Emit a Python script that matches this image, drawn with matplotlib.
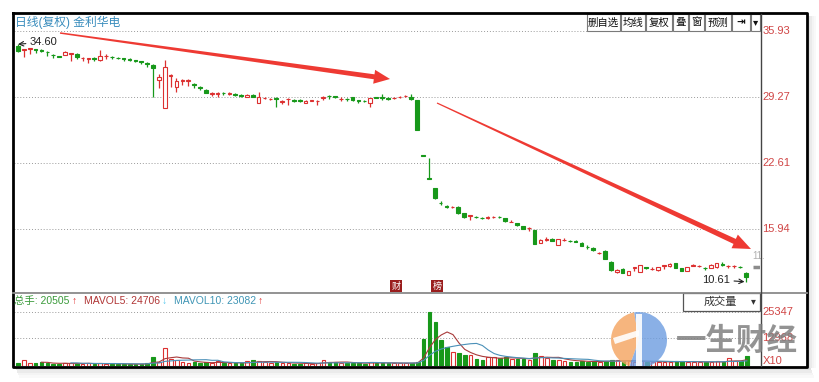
import numpy as np
import pandas as pd
import matplotlib
matplotlib.use("Agg")
import matplotlib.pyplot as plt
from matplotlib.patches import Rectangle, Polygon, Wedge

plt.rcParams['font.family'] = ['Liberation Sans', 'Noto Sans CJK SC', 'DejaVu Sans']

# ---- data ----
opens = [34.45, 34.00, 34.10, 34.10, 34.05, 33.85, 33.55, 33.40, 33.55, 33.65,
         33.60, 33.20, 33.15, 33.20, 33.05, 33.40, 33.35, 33.25, 33.20, 33.10,
         33.00, 32.90, 32.75, 32.55, 31.00, 28.20, 31.40, 30.25, 30.90, 30.90,
         30.60, 30.25, 30.00, 29.55, 29.60, 29.70, 29.60, 29.60, 29.50, 29.30,
         29.50, 28.70, 29.15, 29.05, 29.20, 28.80, 29.05, 28.95, 28.95, 28.70,
         28.90, 28.85, 29.20, 29.40, 29.35, 29.05, 29.10, 29.25, 28.95, 28.90,
         28.70, 29.25, 29.25, 29.15, 29.15, 29.25, 29.35, 29.25, 28.95, 23.35,
         21.05, 20.10, 18.60, 18.30, 18.15, 18.20, 17.55, 17.30, 17.20, 17.10,
         17.10, 17.15, 17.20, 17.05, 16.60, 16.50, 16.20, 16.00, 15.85, 14.55,
         14.85, 14.95, 14.35, 14.80, 14.75, 14.70, 14.55, 14.15, 14.00, 13.50,
         13.75, 12.60, 11.60, 11.95, 11.30, 12.00, 11.60, 12.10, 11.90, 11.80,
         12.25, 12.20, 12.50, 12.00, 11.75, 12.25, 12.20, 12.05, 12.05, 12.10,
         12.40, 12.20, 12.20, 12.15, 11.50]
highs = [34.60, 34.15, 34.25, 34.15, 34.10, 33.90, 33.60, 33.45, 33.95, 33.75,
         33.75, 33.30, 33.25, 33.30, 34.00, 33.65, 33.45, 33.30, 33.25, 33.20,
         33.05, 32.95, 32.80, 32.60, 31.60, 33.00, 31.60, 31.20, 31.10, 31.05,
         30.70, 30.35, 30.05, 29.75, 29.75, 29.75, 29.75, 29.65, 29.55, 29.55,
         29.55, 29.80, 29.30, 29.15, 29.25, 29.00, 29.20, 29.05, 29.05, 28.95,
         29.00, 28.95, 29.40, 29.45, 29.40, 29.25, 29.15, 29.30, 29.00, 28.95,
         29.20, 29.30, 29.60, 29.30, 29.30, 29.40, 29.50, 29.60, 28.95, 23.35,
         23.10, 20.10, 18.80, 18.35, 18.25, 18.25, 17.60, 17.40, 17.25, 17.15,
         17.30, 17.30, 17.30, 17.10, 16.80, 16.55, 16.25, 16.10, 15.85, 14.90,
         15.10, 15.00, 14.95, 15.00, 14.85, 14.85, 14.60, 14.30, 14.10, 13.65,
         13.80, 12.70, 11.90, 12.00, 11.75, 12.15, 12.35, 12.15, 12.10, 12.15,
         12.35, 12.50, 12.55, 12.05, 12.15, 12.45, 12.30, 12.15, 12.40, 12.55,
         12.60, 12.30, 12.30, 12.20, 11.60]
lows = [33.85, 33.30, 33.60, 33.70, 33.80, 33.40, 33.25, 33.30, 33.50, 32.95,
        33.15, 32.90, 32.70, 32.90, 32.95, 33.10, 33.15, 33.10, 32.95, 32.95,
        32.80, 32.60, 32.30, 29.25, 30.20, 28.15, 30.30, 29.80, 30.50, 30.35,
        30.20, 30.00, 29.65, 29.40, 29.30, 29.45, 29.45, 29.40, 29.30, 29.25,
        29.25, 28.65, 29.05, 28.95, 28.25, 28.60, 28.50, 28.80, 28.80, 28.65,
        28.85, 28.50, 29.00, 29.10, 29.20, 28.90, 28.90, 28.90, 28.70, 28.80,
        28.30, 29.15, 28.95, 28.95, 29.05, 29.15, 29.30, 29.00, 25.95, 23.35,
        21.02, 19.00, 18.35, 18.10, 18.05, 17.50, 17.10, 16.90, 17.05, 17.00,
        17.00, 17.05, 17.05, 16.65, 16.60, 16.25, 15.90, 15.70, 14.40, 14.50,
        14.75, 14.70, 14.30, 14.70, 14.60, 14.60, 14.20, 13.90, 13.70, 13.40,
        12.90, 11.75, 11.50, 11.45, 11.25, 11.70, 11.55, 11.95, 11.85, 11.75,
        11.95, 12.15, 12.00, 11.65, 11.70, 12.25, 12.15, 11.85, 12.00, 12.05,
        12.20, 12.00, 12.00, 12.00, 10.61]
closes = [33.90, 34.10, 34.20, 34.00, 33.95, 33.80, 33.50, 33.35, 33.85, 33.70,
          33.35, 33.25, 33.20, 33.15, 33.40, 33.45, 33.30, 33.20, 33.15, 33.05,
          32.95, 32.85, 32.65, 32.20, 31.30, 32.30, 31.50, 30.85, 30.95, 31.00,
          30.45, 30.20, 29.70, 29.65, 29.70, 29.65, 29.65, 29.50, 29.40, 29.50,
          29.30, 29.30, 29.20, 29.10, 29.10, 28.85, 29.10, 28.90, 28.90, 28.90,
          28.95, 28.90, 29.30, 29.35, 29.30, 29.10, 29.05, 28.95, 28.90, 28.85,
          29.15, 29.20, 29.20, 29.10, 29.20, 29.30, 29.40, 29.05, 25.95, 23.35,
          21.02, 19.05, 18.55, 18.20, 18.20, 17.55, 17.15, 17.35, 17.15, 17.05,
          17.15, 17.20, 17.15, 16.70, 16.65, 16.30, 15.95, 16.05, 14.45, 14.85,
          14.90, 14.75, 14.90, 14.85, 14.70, 14.65, 14.25, 14.10, 13.80, 13.55,
          12.95, 11.80, 11.85, 11.50, 11.70, 12.10, 12.30, 12.00, 11.95, 12.10,
          12.30, 12.40, 12.05, 11.70, 12.10, 12.30, 12.25, 12.00, 12.35, 12.50,
          12.35, 12.25, 12.25, 12.10, 11.10]
volumes = [1400, 2800, 1400, 1300, 1900, 1200, 1000, 900, 1500, 1300,
           1200, 1000, 1200, 900, 1500, 1100, 1000, 800, 900, 850,
           900, 1000, 1300, 4200, 2100, 8600, 3300, 2900, 2000, 1500,
           1900, 1400, 1700, 1300, 2300, 1400, 1300, 1200, 1300, 2200,
           2600, 2400, 1800, 1500, 1800, 1300, 1400, 1100, 1000, 1300,
           1000, 1200, 2700, 2000, 1800, 1500, 1300, 1600, 1200, 1100,
           1900, 1400, 1600, 1300, 1200, 1400, 1300, 1500, 1900, 12700,
           25347, 20600, 12300, 8900, 6500, 6100, 5200, 5000, 3400, 2900,
           4100, 4000, 3700, 4200, 3300, 3200, 3400, 2800, 6000, 4600,
           3800, 2900, 3000, 2500, 2100, 2000, 2300, 2000, 2200, 1800,
           2500, 2800, 2700, 2400, 2300, 2000, 2500, 1900, 1800, 2100,
           1800, 2000, 2200, 2300, 2100, 1900, 1800, 1700, 2000, 2200,
           1900, 3600, 2200, 2300, 4600]

price_ticks = [35.93, 29.27, 22.61, 15.94]
vol_ticks = [25347, 12968]
title_text = "日线(复权) 金利华电"
stats = [("总手: 20505", "#3a9a3a"), ("↑", "#e03030"),
         ("MAVOL5: 24706", "#b03535"), ("↓", "#55c8ee"),
         ("MAVOL10: 23082", "#3f95b5"), ("↑", "#e03030")]

RED = "#dc3030"
GREEN = "#17981a"
W, H = 819, 382


def fx(x):
    return x / W


def fy(y):
    return 1 - y / H


o = np.array(opens); h = np.array(highs); l = np.array(lows); c = np.array(closes)
n = len(c)
x = np.arange(n)
prev = np.r_[c[0], c[:-1]]
up = (c > o) | ((c == o) & (c >= prev))
cols = [RED if u else GREEN for u in up]
faces = ["white" if u else GREEN for u in up]

fig = plt.figure(figsize=(W / 100, H / 100), dpi=100)
fig.patch.set_facecolor("white")
renderer = fig.canvas.get_renderer()

ax = fig.add_axes([fx(14), fy(292), fx(760 - 14), (292 - 14) / H])
axv = fig.add_axes([fx(14), fy(366), fx(761 - 14), (366 - 294) / H])
for a in (ax, axv):
    a.set_xlim(-0.68, 126.4)
    a.set_xticks([]); a.set_yticks([])
    for s in a.spines.values():
        s.set_visible(False)
    a.patch.set_alpha(0)
ax.set_ylim(9.58, 37.65)
axv.set_ylim(0, 33800)

# grid + right labels
for t in price_ticks:
    ax.axhline(t, color="#9a9a9a", lw=0.7, ls=(0, (1, 2)), zorder=0)
    ax.text(1.003, t, f"{t:.2f}", transform=ax.get_yaxis_transform(),
            color="#d04545", fontsize=8, va="center", ha="left")
for t in vol_ticks:
    axv.axhline(t, color="#9a9a9a", lw=0.7, ls=(0, (1, 2)), zorder=0)
    axv.text(1.002, t, str(t), transform=axv.get_yaxis_transform(),
             color="#d04545", fontsize=8, va="center", ha="left")
axv.text(1.002, 0.07, "X10", transform=axv.transAxes, color="#d04545",
         fontsize=8, va="center", ha="left")

# candles
ax.vlines(x, l, h, colors=cols, lw=0.9, zorder=2)
body = np.maximum(np.abs(c - o), 0.03)
ax.bar(x, body, bottom=np.minimum(o, c), width=0.62, color=faces,
       edgecolor=cols, linewidth=0.8, zorder=3)

# volume
axv.bar(x, volumes, width=0.62, color=faces, edgecolor=cols, linewidth=0.8, zorder=2)
vs = pd.Series(volumes, dtype=float)
axv.plot(x, vs.rolling(5).mean(), color="#a83a3a", lw=0.8, zorder=3)
axv.plot(x, vs.rolling(10).mean(), color="#4a90b8", lw=0.8, zorder=3)

# max / min labels
ax.annotate("34.60", xy=(0, h.max()), xytext=(12, 2), textcoords="offset pixels",
            fontsize=8, ha="left", va="center", color="#222",
            arrowprops=dict(arrowstyle="->", color="#222", lw=0.8, shrinkA=1, shrinkB=0))
ax.annotate(f"{l.min():.2f}", xy=(n - 1, l.min()), xytext=(-16, 2), textcoords="offset pixels",
            fontsize=8, ha="right", va="center", color="#222",
            arrowprops=dict(arrowstyle="->", color="#222", lw=0.8, shrinkA=1, shrinkB=1))
ax.hlines(c[-2], n + 0.2, 126.4, color="#8c8c8c", lw=2.5, zorder=3)
ax.text(n + 0.1, c[-2] + 0.6, "11.", color="#b0b0b0", fontsize=7, ha="left", va="bottom")

# frame, separators, shadow
for k, a_ in enumerate([0.22, 0.14, 0.08, 0.04]):
    fig.patches.append(Rectangle((fx(16 + k), fy(370 + 2.5 * k)), fx(795), (2.5) / H,
                                 transform=fig.transFigure, color="#777", alpha=a_, lw=0))
    fig.patches.append(Rectangle((fx(808 + 2 * k), fy(368)), fx(2), (352) / H,
                                 transform=fig.transFigure, color="#777", alpha=a_, lw=0))
fig.lines.append(plt.Line2D([fx(13), fx(13), fx(807), fx(807), fx(13)],
                            [fy(13), fy(367), fy(367), fy(13), fy(13)],
                            transform=fig.transFigure, color="black", lw=2))
fig.lines.append(plt.Line2D([fx(13), fx(807)], [fy(293), fy(293)],
                            transform=fig.transFigure, color="#8a8a8a", lw=1.3))
fig.lines.append(plt.Line2D([fx(760.5), fx(760.5)], [fy(14), fy(366)],
                            transform=fig.transFigure, color="#444", lw=1))

# header texts
fig.text(fx(15), fy(22), title_text, color="#3a8dbd", fontsize=8.5, va="center", ha="left")
buttons = [("删自选", 587, 620), ("均线", 621, 645), ("复权", 646, 672), ("叠", 673, 688),
           ("窗", 689, 704), ("预测", 705, 731), ("⇥", 732, 750), ("▾", 751, 760)]
for label, x0, x1 in buttons:
    fig.patches.append(Rectangle((fx(x0), fy(31)), fx(x1 - x0), 17 / H, transform=fig.transFigure,
                                 facecolor="white", edgecolor="#7a7a7a", lw=0.8))
    fig.text(fx((x0 + x1) / 2), fy(22.5), label, fontsize=7.5, ha="center", va="center",
             color="#111", weight="bold" if label in ("⇥", "▾") else "normal")

# volume stats row, laid out one after another
xpos = 14
for s, col in stats:
    t = fig.text(fx(xpos), fy(301), s, color=col, fontsize=7.5, va="center", ha="left")
    wpx = t.get_window_extent(renderer).width
    xpos += wpx + (2 if s not in ("↑", "↓") else 7)

# 成交量 box
fig.patches.append(Rectangle((fx(683), fy(311)), fx(77), 18 / H, transform=fig.transFigure,
                             facecolor="white", edgecolor="#555", lw=0.9))
fig.text(fx(720), fy(302), "成交量", fontsize=8, ha="center", va="center", color="#333")
fig.text(fx(753), fy(301), "▾", fontsize=7, ha="center", va="center", color="#333")

# event tags
for ch, xx in (("财", 396), ("榜", 437)):
    fig.text(fx(xx), fy(286), ch, fontsize=6.5, color="white", ha="center", va="center",
             bbox=dict(boxstyle="square,pad=0.12", fc="#9a1d1d", ec="none"))


def red_arrow(x0, y0, x1, y1, w0, w1, hl, hw):
    p0 = np.array([x0, y0], float); p1 = np.array([x1, y1], float)
    d = (p1 - p0) / np.hypot(*(p1 - p0))
    nrm = np.array([-d[1], d[0]])
    b = p1 - d * hl
    pts = [p0 + nrm * w0 / 2, b + nrm * w1 / 2, b + nrm * hw / 2, p1,
           b - nrm * hw / 2, b - nrm * w1 / 2, p0 - nrm * w0 / 2]
    pts = [(fx(p[0]), fy(p[1])) for p in pts]
    fig.patches.append(Polygon(pts, closed=True, transform=fig.transFigure,
                               facecolor="#ee3a33", edgecolor="none"))


red_arrow(60, 33, 390, 79, 1.5, 5, 16, 14)
red_arrow(437, 103, 751, 249, 1.2, 5.5, 18, 15)

# watermark
wax = fig.add_axes([fx(609), fy(370), fx(60), 60 / H])
wax.set_xlim(0, 60); wax.set_ylim(0, 60); wax.axis("off")
wax.add_patch(Wedge((30, 30), 28, 100, 250, color="#f4a35e", alpha=0.8, lw=0))
wax.add_patch(Wedge((30, 30), 28, 250, 460, color="#6d9de0", alpha=0.8, lw=0))
wax.add_patch(Rectangle((27, 4), 6, 52, color="white", alpha=0.9, lw=0))
wax.add_patch(Polygon([(6, 26), (30, 34), (30, 40), (4, 32)], color="white", alpha=0.9, lw=0))
fig.text(fx(676), fy(341), "一生财经", fontsize=22, weight="bold", color="#808080",
         alpha=0.85, ha="left", va="center", family=["Noto Sans CJK SC"])

fig.savefig("out.png", dpi=100)
